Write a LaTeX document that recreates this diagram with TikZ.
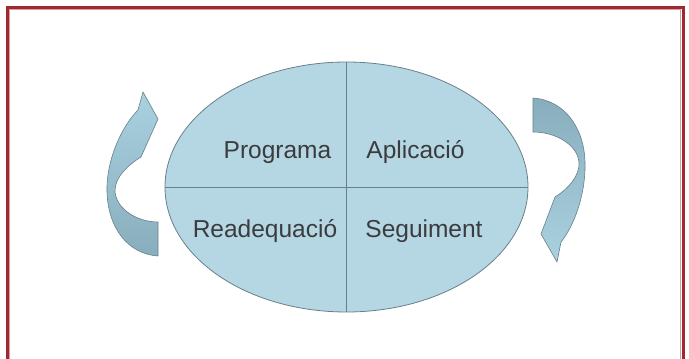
\documentclass[tikz,border=0pt]{standalone}
\usepackage{fontspec}
\setmainfont{Liberation Sans}
\usetikzlibrary{shapes.geometric}

\definecolor{frameRed}{RGB}{158,42,48}
\definecolor{ellFill}{RGB}{181,214,227}
\definecolor{ellLine}{RGB}{104,128,138}
\definecolor{arrLight}{RGB}{170,209,223}
\definecolor{arrDark}{RGB}{136,174,189}
\definecolor{txtGray}{RGB}{58,60,62}

\begin{document}
\begin{tikzpicture}[
    x=1pt, y=-1pt,
    quarter/.style={
      anchor=base, text=txtGray, inner sep=0pt,
      font=\fontsize{24.5}{26}\selectfont
    },
    band/.style={
      draw=ellLine, line width=0.6pt, line join=round
    }
    ]
  \useasboundingbox (0,0) rectangle (689,359);
  \clip (0,0) rectangle (689,359);
  \fill[white] (0,0) rectangle (689,359);
  \draw[frameRed, line width=3pt] (7,7) rectangle (683,372);
  \draw[frameRed!45, line width=0.8pt] (9.5,9.5) rectangle (680.5,372);

  % left curved arrow
  \path[band, top color=arrLight, bottom color=arrDark]
    (143,92) -- (158,119) -- (141,157)
    .. controls (128,165) and (114,178) .. (115,192)
    .. controls (117,210) and (138,222) .. (158,222)
    -- (158,256)
    .. controls (128,254) and (108,228) .. (107,192)
    .. controls (106,160) and (122,126) .. (138,110)
    -- cycle;

  % right curved arrow
  \path[band, top color=arrDark, bottom color=arrLight]
    (557,262) -- (541,234) -- (555,197)
    .. controls (568,189) and (580,176) .. (579,162)
    .. controls (577,144) and (555,132) .. (533,132)
    -- (533,98)
    .. controls (563,100) and (584,126) .. (585,162)
    .. controls (586,194) and (574,226) .. (561,242)
    -- cycle;

  \node (ell) [ellipse, draw=ellLine, fill=ellFill, line width=0.8pt,
    minimum width=363pt, minimum height=250pt, inner sep=0pt]
    at (346.5,187) {};
  \draw[ellLine, line width=0.9pt] (ell.north) -- (ell.south);
  \draw[ellLine, line width=0.9pt] (ell.west) -- (ell.east);

  \node (prog) [quarter] at (277.5,158) {Programa};
  \node (apl) [quarter] at (415.5,158) {Aplicació};
  \node (read) [quarter] at (265,237) {Readequació};
  \node (seg) [quarter] at (424,237) {Seguiment};
\end{tikzpicture}
\end{document}
